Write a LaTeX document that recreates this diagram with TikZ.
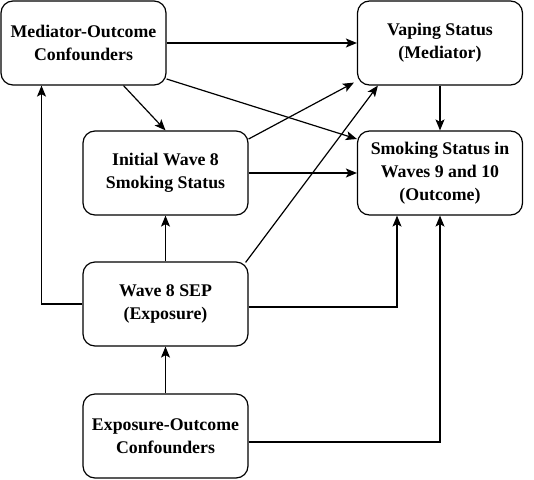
\documentclass[tikz,border=0pt]{standalone}
\usepackage{fontspec}
\setmainfont{Liberation Serif}
\usetikzlibrary{arrows.meta}

\begin{document}
\begin{tikzpicture}[x=1pt, y=-1pt,
        box/.style={draw, line width=1.2pt, rounded corners=12pt, minimum width=165pt,
            minimum height=84pt, align=center, font=\fontsize{17.8}{23}\selectfont\bfseries},
        arr/.style={line width=1.2pt, -{Stealth[length=11pt,width=9pt,inset=2.5pt]}}]
        \useasboundingbox (0,0) rectangle (534,479);

        \node[box] (moc) at (83.5,43) {Mediator-Outcome\\Confounders};
        \node[box] (vap) at (440,43) {Vaping Status\\(Mediator)};
        \node[box] (init) at (165.5,173) {Initial Wave 8\\Smoking Status};
        \node[box] (out) at (440,173) {Smoking Status in\\Waves 9 and 10\\(Outcome)};
        \node[box] (sep) at (165.5,304) {Wave 8 SEP\\(Exposure)};
        \node[box] (eoc) at (165.5,436) {Exposure-Outcome\\Confounders};

        % confounders of mediator and outcome
        \draw[arr] (moc) -- (vap);
        \draw[arr] ([xshift=40pt]moc.south) -- (init.north);
        \draw[arr] ([yshift=-36pt]moc.east) -- ([yshift=34pt]out.west);

        \draw[arr] ([yshift=34pt]init.east) -- ([xshift=-3pt,yshift=3pt]vap.south west);
        \draw[arr] (init) -- (out);
        \draw[arr] (vap) -- (out);

        % exposure
        \draw[arr] ([xshift=-3pt,yshift=-1pt]sep.north east) -- ([xshift=21pt]vap.south west);
        \draw[arr] (sep) -- (init);
        \draw[arr] (sep.west) -| ([xshift=-42pt]moc.south);
        \draw[arr] ([yshift=-3pt]sep.east) -| ([xshift=-43pt]out.south);

        \draw[arr] (eoc) -- (sep);
        \draw[arr] ([yshift=-6pt]eoc.east) -| (out.south);
    \end{tikzpicture}
\end{document}
